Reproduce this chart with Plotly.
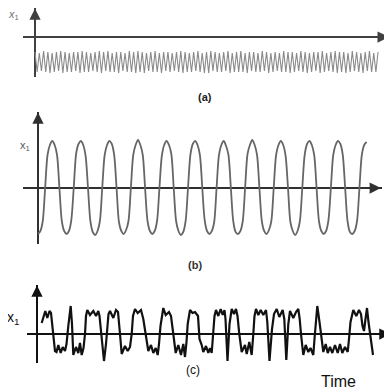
import plotly.graph_objects as go

# ---------------- data ----------------
# Panel (a): small fast oscillation, below the axis (half-period samples)
t_a = [0, 1, 2, 3, 4, 5, 6, 7, 8, 9, 10, 11, 12, 13, 14, 15, 16, 17, 18, 19,
       20, 21, 22, 23, 24, 25, 26, 27, 28, 29, 30, 31, 32, 33, 34, 35, 36, 37, 38, 39,
       40, 41, 42, 43, 44, 45, 46, 47, 48, 49, 50, 51, 52, 53, 54, 55, 56, 57, 58, 59,
       60, 61, 62, 63, 64, 65, 66, 67, 68, 69, 70, 71, 72, 73, 74, 75, 76, 77, 78, 79,
       80, 81, 82, 83, 84, 85, 86, 87, 88, 89, 90, 91, 92, 93, 94, 95, 96, 97, 98, 99,
       100, 101, 102, 103, 104, 105, 106, 107, 108, 109, 110, 111, 112, 113, 114, 115, 116, 117, 118, 119,
       120, 121, 122, 123, 124, 125, 126, 127, 128, 129, 130, 131, 132, 133, 134, 135, 136, 137, 138, 139,
       140, 141, 142, 143, 144, 145, 146, 147, 148, 149, 150, 151, 152, 153, 154, 155, 156, 157, 158, 159,
       160]
x1_a = [-15, -35, -16, -34, -14, -35, -15, -36, -16, -35, -15, -34, -14, -36, -15, -35,
        -16, -35, -15, -34, -15, -36, -14, -35, -15, -35, -16, -34, -15, -35, -14, -36,
        -15, -34, -14, -35, -16, -35, -15, -36, -15, -34, -16, -35, -14, -35, -15, -36,
        -14, -35, -15, -36, -16, -34, -15, -35, -14, -35, -16, -36, -15, -34, -15, -35,
        -16, -34, -15, -35, -14, -36, -15, -35, -16, -35, -15, -34, -14, -35, -16, -36,
        -15, -36, -14, -34, -15, -35, -16, -35, -15, -34, -14, -36, -16, -35, -15, -35,
        -14, -35, -16, -36, -15, -34, -15, -35, -16, -35, -14, -34, -15, -36, -16, -35,
        -15, -34, -16, -35, -14, -35, -15, -36, -15, -35, -16, -34, -14, -35, -15, -36,
        -16, -35, -15, -34, -15, -36, -14, -35, -16, -34, -15, -35, -14, -36, -15, -35,
        -15, -36, -16, -35, -14, -34, -15, -35, -16, -36, -15, -34, -14, -35, -16, -35,
        -15]

# Panel (b): large periodic oscillation (12 samples per period)
t_b = [0, 1, 2, 3, 4, 5, 6, 7, 8, 9, 10, 11, 12, 13, 14, 15, 16, 17, 18, 19,
       20, 21, 22, 23, 24, 25, 26, 27, 28, 29, 30, 31, 32, 33, 34, 35, 36, 37, 38, 39,
       40, 41, 42, 43, 44, 45, 46, 47, 48, 49, 50, 51, 52, 53, 54, 55, 56, 57, 58, 59,
       60, 61, 62, 63, 64, 65, 66, 67, 68, 69, 70, 71, 72, 73, 74, 75, 76, 77, 78, 79,
       80, 81, 82, 83, 84, 85, 86, 87, 88, 89, 90, 91, 92, 93, 94, 95, 96, 97, 98, 99,
       100, 101, 102, 103, 104, 105, 106, 107, 108, 109, 110, 111, 112, 113, 114, 115, 116, 117, 118, 119,
       120, 121, 122, 123, 124, 125, 126, 127, 128, 129, 130, 131, 132, 133, 134, 135, 136, 137, 138]
x1_b = [-46, -43, -33, 0, 33, 43, 47, 43, 33, 0, -33, -43,
        -46, -43, -32, 0, 34, 44, 47, 43, 32, 0, -33, -44,
        -47, -43, -33, 1, 33, 43, 47, 44, 33, 0, -34, -43,
        -46, -42, -33, 0, 33, 43, 48, 43, 33, -1, -33, -43,
        -46, -43, -33, 0, 32, 43, 47, 43, 34, 0, -33, -43,
        -47, -44, -33, 0, 33, 44, 47, 43, 33, 0, -32, -43,
        -46, -43, -34, 0, 33, 43, 47, 42, 33, 0, -33, -44,
        -46, -43, -33, 1, 34, 43, 48, 43, 33, 0, -33, -43,
        -46, -42, -33, 0, 33, 43, 47, 43, 32, 0, -34, -43,
        -47, -43, -33, 0, 33, 44, 47, 43, 33, 0, -33, -43,
        -46, -43, -32, 0, 33, 43, 47, 44, 33, 0, -33, -44,
        -46, -43, -33, 0, 33, 43, 46]

# Panel (c): irregular (chaotic) switching between the two wells
t_c = [4.7, 7.0, 8.3, 10.3, 12.5, 14.0, 16.0, 18.0, 19.5, 21.3,
       23.7, 25.7, 28.0, 29.5, 31.3, 33.7, 35.0, 36.3, 39.0, 41.3,
       43.0, 44.7, 46.5, 48.0, 49.0, 50.3, 53.0, 56.3, 59.0, 61.3,
       62.5, 64.5, 67.0, 69.0, 70.3, 71.5, 73.0, 76.3, 79.0, 81.0,
       83.0, 84.7, 88.0, 90.7, 93.0, 94.7, 96.0, 98.0, 100.7, 104.0,
       106.3, 108.0, 109.7, 111.3, 114.0, 116.3, 118.7, 120.7, 122.0, 123.5,
       126.3, 128.7, 132.0, 134.0, 136.3, 138.7, 141.3, 144.0, 146.3, 148.0,
       149.5, 150.7, 153.0, 155.5, 158.0, 160.0, 161.0, 162.5, 164.7, 166.3,
       169.0, 171.3, 173.0, 174.7, 176.3, 177.5, 179.0, 181.3, 183.7, 185.7,
       187.5, 188.5, 190.5, 192.5, 194.7, 197.0, 199.0, 200.5, 202.3, 204.7,
       208.0, 209.7, 212.3, 214.7, 216.3, 217.5, 219.0, 221.3, 223.7, 226.3,
       229.0, 230.3, 232.5, 235.0, 237.0, 239.7, 242.3, 245.7, 247.3, 249.3,
       251.3, 253.0, 256.3, 259.0, 261.3, 262.7, 264.0, 266.3, 268.7, 271.3,
       273.5, 276.3, 277.5, 278.7, 280.3, 282.5, 284.7, 286.3, 288.7, 290.7,
       293.0, 295.3, 298.0, 300.7, 303.0, 305.3, 308.0, 310.7, 312.0, 313.5,
       316.3, 319.3, 322.0, 324.0, 325.5, 327.0, 328.5, 330.0, 331.5, 333.5,
       336.0]
x1_c = [11, 20, 23, 16, 23, 21, 0, -17, -18, -11,
        -19, -13, -17, -10, 8, 28, 10, -21, -13, -19,
        -9, -21, -14, 0, 18, 24, 19, 23, 18, 23,
        18, -5, -27, -10, 10, 20, 23, 16, 24, 22,
        0, -20, -12, -17, -13, 0, 18, 25, 21, 24,
        15, 5, -8, -17, -11, -19, -14, -21, -10, 8,
        26, 19, 22, 18, 0, -19, -11, -21, -10, -23,
        -8, 10, 24, 21, 22, 20, 18, -5, -11, -18,
        -12, -19, -14, -19, 0, 18, 24, 18, 25, 19,
        24, 15, -27, 10, 25, 20, 25, 18, 0, -18,
        -11, -20, -8, -21, 0, 18, 25, 19, 24, 19,
        24, 12, -27, 5, 20, 25, 17, 24, 15, -26,
        10, 23, 16, 22, 25, 15, 0, -21, -11, -18,
        -14, -21, -5, 12, 28, 12, -8, -18, -10, -19,
        -13, -19, -11, -19, -10, -19, -13, -18, -5, 12,
        24, 18, 24, 20, 8, 3, 15, 26, 12, -5,
        -21]

panel_labels = ["(a)", "(b)", "(c)"]
time_label = "Time"

# ---------------- figure ----------------
# The page body keeps an 8 px margin, so the figure is 384 px and
# positions read from the 392 px picture are shifted by that margin.
OFF = 8
W = H = 392 - OFF


def fx(p):
    return (p - OFF) / W


def fy(p):
    return 1 - (p - OFF) / H


fig = go.Figure()
fig.add_trace(go.Scatter(x=t_a, y=x1_a, mode="lines", xaxis="x", yaxis="y",
                         line=dict(color="#8a8a8a", width=1.1), hoverinfo="skip"))
fig.add_trace(go.Scatter(x=t_b, y=x1_b, mode="lines", xaxis="x2", yaxis="y2",
                         line=dict(color="#666666", width=1.8, shape="spline", smoothing=0.8),
                         hoverinfo="skip"))
fig.add_trace(go.Scatter(x=t_c, y=x1_c, mode="lines", xaxis="x3", yaxis="y3",
                         line=dict(color="#111111", width=2.2), hoverinfo="skip"))


def ax(domain, rng, anchor, color, width):
    return dict(domain=domain, range=rng, anchor=anchor, showgrid=False,
                showticklabels=False, ticks="", showline=False,
                zeroline=True, zerolinecolor=color, zerolinewidth=width,
                fixedrange=True)


col_a, col_b, col_c = "#404040", "#303030", "#111111"

fig.update_layout(
    width=W, height=H, margin=dict(l=0, r=0, t=0, b=0),
    paper_bgcolor="white", plot_bgcolor="rgba(0,0,0,0)", showlegend=False,
    xaxis=ax([fx(23), fx(390)], [-12 / 2.144, 355 / 2.144], "y", col_a, 1.8),
    yaxis=ax([fy(77), fy(8)], [-40, 29], "x", col_a, 1.8),
    xaxis2=ax([fx(23), fx(382)], [-15 / 2.381, 344 / 2.381], "y2", col_b, 1.6),
    yaxis2=ax([fy(244), fy(112)], [-56, 76], "x2", col_b, 1.6),
    xaxis3=ax([fx(27), fx(391)], [-10, 354], "y3", col_c, 1.8),
    yaxis3=ax([fy(362.5), fy(285)], [-28.5, 49], "x3", col_c, 1.8),
)

# arrow heads on the axes
arrows = [
    ("x", "y", 165.0, 0, 159.0, 0, col_a),
    ("x", "y", 0, 28.5, 0, 20, col_a),
    ("x2", "y2", 144.0, 0, 139.0, 0, col_b),
    ("x2", "y2", 0, 75.5, 0, 66, col_b),
    ("x3", "y3", 353.5, 0, 340, 0, col_c),
    ("x3", "y3", 0, 48.5, 0, 40, col_c),
]
for xr, yr, x, y, axv, ayv, c in arrows:
    fig.add_annotation(x=x, y=y, ax=axv, ay=ayv, xref=xr, yref=yr, axref=xr, ayref=yr,
                       text="", showarrow=True, arrowhead=2, arrowsize=1.5,
                       arrowwidth=1.5, arrowcolor=c, standoff=0, startstandoff=0)

font_fam = "Liberation Sans, Arial, sans-serif"
texts = [
    ("<i>x</i><sub>1</sub>", 13, 15, 11, "#707070"),
    ("<b>" + panel_labels[0] + "</b>", 205, 97, 11, "#222222"),
    ("x<sub>1</sub>", 25, 146, 11, "#555555"),
    ("<b>" + panel_labels[1] + "</b>", 195, 265, 11, "#333333"),
    ("x<sub>1</sub>", 13, 318, 14, "#111111"),
    (panel_labels[2], 193, 370, 12, "#111111"),
    (time_label, 338, 381, 16, "#111111"),
]
for txt, x, y, size, c in texts:
    fig.add_annotation(x=fx(x), y=fy(y), xref="paper", yref="paper", text=txt,
                       showarrow=False, xanchor="center", yanchor="middle",
                       font=dict(family=font_fam, size=size, color=c))

fig.write_html("out.html")
